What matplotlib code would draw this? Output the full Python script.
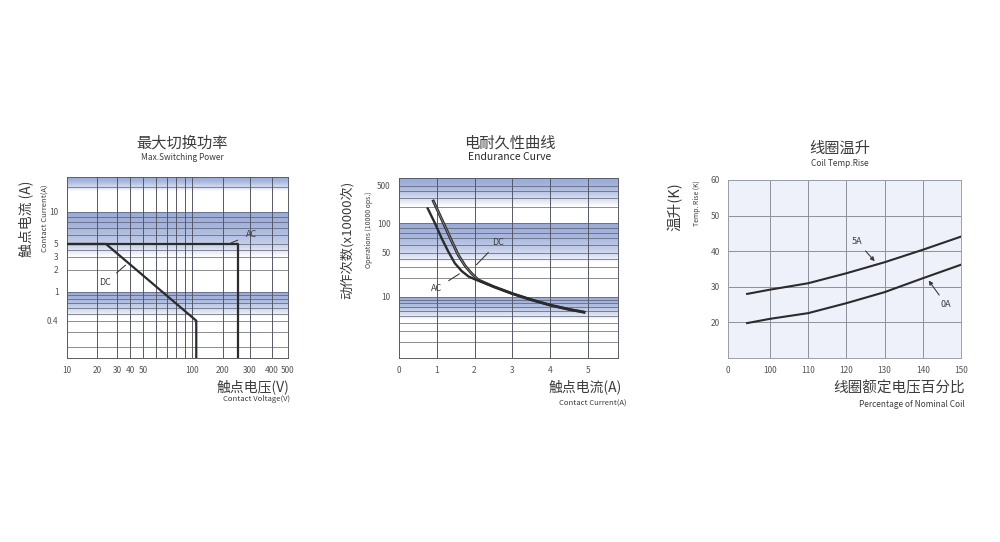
import numpy as np
import matplotlib
matplotlib.use('Agg')
import matplotlib.pyplot as plt
from matplotlib.colors import to_rgb

plt.rcParams['font.family'] = ['Noto Sans CJK SC', 'DejaVu Sans']

# --- Max switching power (left) ---
volt_ticks = [10, 20, 30, 40, 50, 100, 200, 300, 400, 500]
volt_grid = [10, 20, 30, 40, 50, 60, 70, 80, 90, 100, 200, 300, 400, 500]
cur_ticks = [0.4, 1, 2, 3, 5, 10]
cur_grid = [20, 10, 9, 8, 7, 6, 5, 4, 3, 2, 1, 0.9, 0.8, 0.7, 0.6, 0.5, 0.4, 0.3, 0.2]
ac_volt = [10, 250, 250]
ac_cur = [5, 5, 0.01]
dc_volt = [10, 24, 110, 110]
dc_cur = [5, 5, 0.4, 0.01]

# --- Endurance curve (middle) ---
amp_ticks = [0, 1, 2, 3, 4, 5]
ops_ticks = [10, 50, 100, 500]
ops_grid = [500, 400, 300, 200, 100, 90, 80, 70, 60, 50, 40, 30, 20,
            10, 9, 8, 7, 6, 5, 4, 3, 2]
ac_amp = [0.76, 0.95, 1.13, 1.31, 1.48, 1.66, 1.84, 2.0, 2.5, 3.0, 3.5, 4.0, 4.5, 4.9]
ac_ops = [188, 100, 70, 51, 34, 25.6, 21, 19, 14.5, 11.2, 9.0, 7.45, 6.4, 5.8]
dc_amp = [0.91, 1.04, 1.22, 1.40, 1.57, 1.75, 1.92, 2.1, 2.5, 3.0, 3.5, 4.0, 4.5, 4.9]
dc_ops = [258, 163, 92, 65, 46, 31, 23.5, 18.5, 14.5, 11.2, 9.0, 7.45, 6.4, 5.8]

# --- Coil temperature rise (right) ---
pct_ticks = [89, 100, 110, 120, 130, 140, 150]
pct_labels = ['0', '100', '110', '120', '130', '140', '150']
rise_ticks = [20, 30, 40, 50, 60]
coil_pct = [94, 100, 110, 120, 130, 140, 150]
rise_5a = [28, 29.2, 31, 33.8, 36.9, 40.4, 44.1]
rise_0a = [19.8, 21.0, 22.6, 25.4, 28.5, 32.4, 36.2]

# the printed chart uses an uneven log grid; these knots copy its spacing
volt_knots = ([10, 20, 30, 40, 50, 100, 200, 300, 400, 500],
              [0, 30, 50, 63, 76, 125, 156, 183, 205, 221])
cur_knots = ([0.15, 0.4, 1, 2, 3, 5, 10, 27],
             [0, 37.3, 66, 88, 101.3, 114, 146.3, 181])
ops_knots = ([1.15, 10, 50, 100, 500, 660],
             [0, 61.3, 105.3, 135, 172.3, 180.3])

band_col = np.array(to_rgb('#9aabd8'))
line_col = '#2b2b2b'
grid_col = '#555866'
txt_col = '#3c3c3c'


def knot_scale(vals, pos):
    lv = np.log10(vals)
    p = np.array(pos, float)

    def fwd(v):
        return np.interp(np.log10(np.clip(v, 1e-9, None)), lv, p)

    def inv(u):
        return 10 ** np.interp(u, p, lv)
    return fwd, inv


def band(ax, top, bottom, n=40):
    # blue gradient fading to white
    for i in range(n):
        y0 = top * (bottom / top) ** (i / n)
        y1 = top * (bottom / top) ** ((i + 1) / n)
        t = (i / n) ** 1.5
        c = band_col * (1 - t) + np.ones(3) * t
        ax.axhspan(y1, y0, color=c, lw=0, zorder=0)


def style(ax, spine='#5a5c68'):
    for s in ax.spines.values():
        s.set_color(spine)
        s.set_linewidth(0.7)
    ax.tick_params(length=0, labelsize=6, colors='#555555', pad=6)
    ax.minorticks_off()


fig = plt.figure(figsize=(10, 5.42), dpi=100)

# ---------------- left ----------------
ax1 = fig.add_axes([0.067, 0.3395, 0.221, 0.334])
ax1.set_xscale('function', functions=knot_scale(*volt_knots))
ax1.set_yscale('function', functions=knot_scale(*cur_knots))
ax1.set_xlim(10, 500)
ax1.set_ylim(0.15, 27)
band(ax1, 27, 18)
band(ax1, 10, 3)
band(ax1, 1, 0.45)
for v in volt_grid:
    ax1.axvline(v, color=grid_col, lw=0.7, zorder=1)
for c in cur_grid:
    ax1.axhline(c, color=grid_col, lw=0.6, alpha=0.8, zorder=1)
ax1.plot(ac_volt, ac_cur, color=line_col, lw=1.6, zorder=3)
ax1.plot(dc_volt, dc_cur, color=line_col, lw=1.6, zorder=3)
ax1.annotate('AC', xy=(217, 5), xytext=(305, 6.1), fontsize=6.5, color=txt_col,
             ha='center', va='center',
             arrowprops=dict(arrowstyle='-', color=txt_col, lw=0.8, shrinkA=4))
ax1.annotate('DC', xy=(38, 2.45), xytext=(23.5, 1.33), fontsize=6.5, color=txt_col,
             ha='center', va='center',
             arrowprops=dict(arrowstyle='-', color=txt_col, lw=0.8, shrinkA=3))
ax1.set_xticks(volt_ticks)
ax1.set_xticklabels([str(v) for v in volt_ticks])
ax1.set_yticks(cur_ticks)
ax1.set_yticklabels([str(c) for c in cur_ticks])
style(ax1)
ax1.text(0.52, 1.188, '最大切换功率', transform=ax1.transAxes, ha='center', va='center',
         fontsize=11, color=txt_col)
ax1.text(0.52, 1.109, 'Max.Switching Power', transform=ax1.transAxes, ha='center',
         va='center', fontsize=6, color=txt_col)
ax1.text(-0.186, 0.77, '触点电流 (A)', transform=ax1.transAxes, rotation=90,
         ha='center', va='center', fontsize=10, color=txt_col)
ax1.text(-0.095, 0.77, 'Contact Current(A)', transform=ax1.transAxes, rotation=90,
         ha='center', va='center', fontsize=5.5, color=txt_col)
ax1.text(1.005, -0.159, '触点电压(V)', transform=ax1.transAxes, ha='right',
         va='center', fontsize=10, color=txt_col)
ax1.text(1.01, -0.227, 'Contact Voltage(V)', transform=ax1.transAxes, ha='right',
         va='center', fontsize=5.5, color=txt_col)

# ---------------- middle ----------------
ax2 = fig.add_axes([0.399, 0.3395, 0.219, 0.3325])
ax2.set_yscale('function', functions=knot_scale(*ops_knots))
ax2.set_xlim(0, 5.8)
ax2.set_ylim(1.15, 660)
band(ax2, 660, 210)
band(ax2, 100, 35)
band(ax2, 10, 4.4)
for a in amp_ticks:
    ax2.axvline(a, color=grid_col, lw=0.7, zorder=1)
for o in ops_grid:
    ax2.axhline(o, color=grid_col, lw=0.6, alpha=0.8, zorder=1)
# DC drawn as a double stroke, AC on top
ax2.plot(dc_amp, dc_ops, color='#2e2e2e', lw=2.1, zorder=3)
ax2.plot(dc_amp, dc_ops, color='#9c9c9c', lw=0.45, zorder=3)
ax2.plot(ac_amp, ac_ops, color=line_col, lw=1.7, zorder=4)
ax2.annotate('DC', xy=(2.0, 30), xytext=(2.63, 64), fontsize=6.5, color=txt_col,
             ha='center', va='center',
             arrowprops=dict(arrowstyle='-', color=txt_col, lw=0.8, shrinkA=3))
ax2.annotate('AC', xy=(1.66, 24.4), xytext=(1.0, 13.6), fontsize=6.5, color=txt_col,
             ha='center', va='center',
             arrowprops=dict(arrowstyle='-', color=txt_col, lw=0.8, shrinkA=3))
ax2.set_xticks(amp_ticks)
ax2.set_xticklabels([str(a) for a in amp_ticks])
ax2.set_yticks(ops_ticks)
ax2.set_yticklabels([str(o) for o in ops_ticks])
style(ax2)
ax2.text(0.507, 1.192, '电耐久性曲线', transform=ax2.transAxes, ha='center',
         va='center', fontsize=11, color=txt_col)
ax2.text(0.507, 1.113, 'Endurance Curve', transform=ax2.transAxes, ha='center',
         va='center', fontsize=7.5, color='#2a2a2a')
ax2.text(-0.239, 0.654, '动作次数(x10000次)', transform=ax2.transAxes, rotation=90,
         ha='center', va='center', fontsize=9.5, color=txt_col)
ax2.text(-0.137, 0.71, 'Operations (10000 ops.)', transform=ax2.transAxes,
         rotation=90, ha='center', va='center', fontsize=5, color=txt_col)
ax2.text(1.017, -0.159, '触点电流(A)', transform=ax2.transAxes, ha='right',
         va='center', fontsize=10, color=txt_col)
ax2.text(1.04, -0.255, 'Contact Current(A)', transform=ax2.transAxes, ha='right',
         va='center', fontsize=5.5, color=txt_col)

# ---------------- right ----------------
ax3 = fig.add_axes([0.728, 0.3395, 0.233, 0.3284])
ax3.set_facecolor('#eef1fa')
ax3.set_xlim(89, 150)
ax3.set_ylim(10, 60)
ax3.set_xticks(pct_ticks)
ax3.set_xticklabels(pct_labels)
ax3.set_yticks(rise_ticks)
ax3.set_yticklabels([str(r) for r in rise_ticks])
ax3.grid(True, color='#8c909c', lw=0.7)
ax3.set_axisbelow(True)
ax3.plot(coil_pct, rise_5a, color=line_col, lw=1.5)
ax3.plot(coil_pct, rise_0a, color=line_col, lw=1.5)
ax3.annotate('5A', xy=(127.9, 36.6), xytext=(122.8, 42.7), fontsize=6.5,
             color=txt_col, ha='center', va='center',
             arrowprops=dict(arrowstyle='-|>', color=txt_col, lw=0.8,
                             mutation_scale=6))
ax3.annotate('0A', xy=(141.1, 32.4), xytext=(146.1, 25.0), fontsize=6.5,
             color=txt_col, ha='center', va='center',
             arrowprops=dict(arrowstyle='-|>', color=txt_col, lw=0.8,
                             mutation_scale=6))
style(ax3, spine='#9aa0aa')
ax3.text(0.48, 1.18, '线圈温升', transform=ax3.transAxes, ha='center', va='center',
         fontsize=11, color=txt_col)
ax3.text(0.48, 1.094, 'Coil Temp.Rise', transform=ax3.transAxes, ha='center',
         va='center', fontsize=6, color=txt_col)
ax3.text(-0.227, 0.85, '温升(K)', transform=ax3.transAxes, rotation=90,
         ha='center', va='center', fontsize=10.5, color=txt_col)
ax3.text(-0.134, 0.87, 'Temp. Rise (K)', transform=ax3.transAxes, rotation=90,
         ha='center', va='center', fontsize=5, color=txt_col)
ax3.text(1.017, -0.169, '线圈额定电压百分比', transform=ax3.transAxes, ha='right',
         va='center', fontsize=10.5, color=txt_col)
ax3.text(1.017, -0.264, 'Percentage of Nominal Coil', transform=ax3.transAxes,
         ha='right', va='center', fontsize=6, color=txt_col)

fig.savefig('out.png', dpi=100, facecolor='white')
